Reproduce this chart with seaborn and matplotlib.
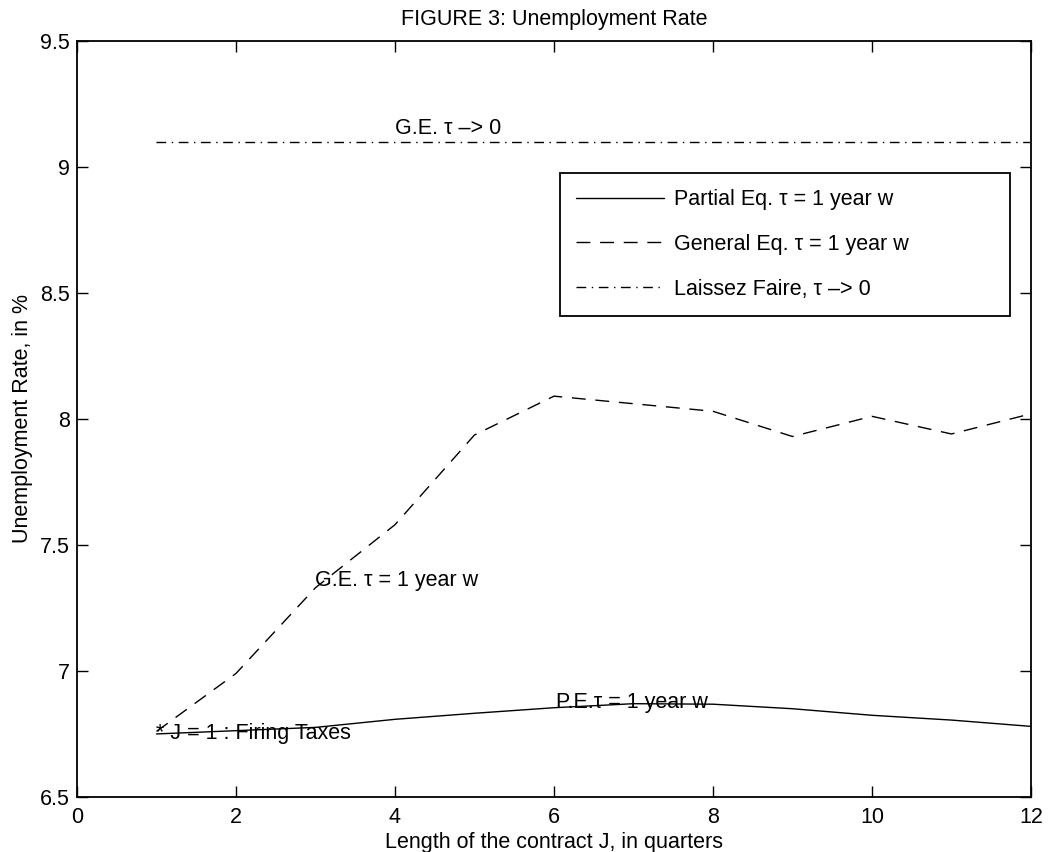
import matplotlib
matplotlib.use('Agg')
import matplotlib.pyplot as plt
import seaborn as sns

# contract length J (quarters)
J = [1, 2, 3, 4, 5, 6, 7, 8, 9, 10, 11, 12]
# unemployment rate, %
pe_rate = [6.75, 6.763, 6.776, 6.808, 6.832, 6.854, 6.87, 6.868, 6.85, 6.824, 6.805, 6.78]
ge_rate = [6.76, 6.99, 7.33, 7.58, 7.936, 8.09, 8.06, 8.03, 7.93, 8.01, 7.94, 8.02]
lf_rate = [9.1, 9.1, 9.1, 9.1, 9.1, 9.1, 9.1, 9.1, 9.1, 9.1, 9.1, 9.1]

labels = ["Partial Eq. \u03c4 = 1 year w",
          "General Eq. \u03c4 = 1 year w",
          "Laissez Faire, \u03c4 \u2013> 0"]
xticks = [0, 2, 4, 6, 8, 10, 12]
yticks = [6.5, 7, 7.5, 8, 8.5, 9, 9.5]
ytick_labels = ["6.5", "7", "7.5", "8", "8.5", "9", "9.5"]

sns.set_theme(style="white")
plt.rcParams['font.family'] = ['Liberation Sans', 'DejaVu Sans']
plt.rcParams['lines.scale_dashes'] = False
plt.rcParams['axes.unicode_minus'] = False
for k in ['text.color', 'axes.labelcolor', 'xtick.color', 'ytick.color']:
    plt.rcParams[k] = 'black'

fig = plt.figure(figsize=(10.49, 8.52), dpi=100)
ax = fig.add_axes([0.0734, 0.0646, 0.9094, 0.8876])

sns.lineplot(x=J, y=pe_rate, color="black", linewidth=1.0, label=labels[0], ax=ax)
sns.lineplot(x=J, y=ge_rate, color="black", linewidth=1.0, linestyle=(0, (10, 7)), label=labels[1], ax=ax)
sns.lineplot(x=J, y=lf_rate, color="black", linewidth=1.0, linestyle=(0, (7, 4, 1, 4)), label=labels[2], ax=ax)

fs = 15.5
ax.text(1, 6.75, "* J = 1 : Firing Taxes", fontsize=fs, va="center", ha="left")
ax.text(3, 7.36, "G.E. \u03c4 = 1 year w", fontsize=fs, va="center", ha="left")
ax.text(6.02, 6.875, "P.E.\u03c4 = 1 year w", fontsize=fs, va="center", ha="left")
ax.text(4, 9.15, "G.E. \u03c4 \u2013> 0", fontsize=fs, va="center", ha="left")

ax.set_xlim(0, 12)
ax.set_ylim(6.5, 9.5)
ax.set_xticks(xticks)
ax.set_xticklabels([str(t) for t in xticks], fontsize=fs)
ax.set_yticks(yticks)
ax.set_yticklabels(ytick_labels, fontsize=fs)
ax.tick_params(direction="in", length=8, width=1, top=True, right=True,
               bottom=True, left=True, colors="black")
ax.tick_params(axis="x", pad=7)
ax.tick_params(axis="y", pad=5)
for s in ax.spines.values():
    s.set_visible(True)
    s.set_color("black")
    s.set_linewidth(1.3)

ax.set_xlabel("Length of the contract J, in quarters", fontsize=fs, labelpad=3)
ax.set_ylabel("Unemployment Rate, in %", fontsize=fs, labelpad=5)
ax.set_title("FIGURE 3: Unemployment Rate", fontsize=fs, pad=11)

leg = ax.legend(loc="upper left", bbox_to_anchor=(0.506, 0.637, 0.472, 0.188),
                mode="expand", fontsize=fs, handlelength=4.1, handletextpad=0.47,
                labelspacing=1.1, borderpad=0.75, borderaxespad=0,
                fancybox=False, frameon=True, edgecolor="black", framealpha=1)
leg.get_frame().set_linewidth(1.3)

fig.savefig("out.png", dpi=100)
